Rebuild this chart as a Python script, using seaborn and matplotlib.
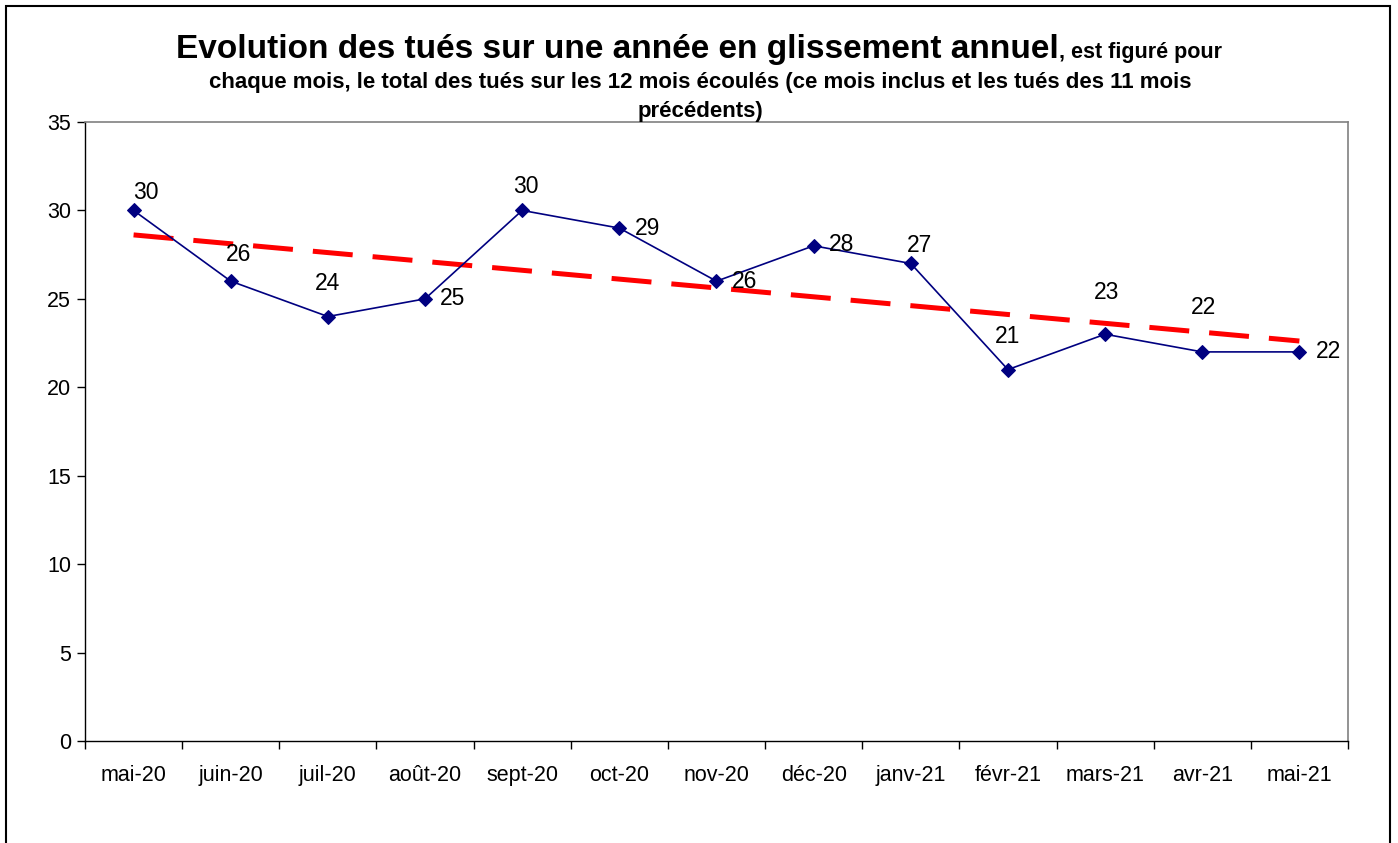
import numpy as np
import pandas as pd
import seaborn as sns
import matplotlib.pyplot as plt
from matplotlib.patches import Rectangle

months = ['mai-20', 'juin-20', 'juil-20', 'août-20', 'sept-20', 'oct-20', 'nov-20',
          'déc-20', 'janv-21', 'févr-21', 'mars-21', 'avr-21', 'mai-21']
tues = [30, 26, 24, 25, 30, 29, 26, 28, 27, 21, 23, 22, 22]
y_ticks = [0, 5, 10, 15, 20, 25, 30, 35]

# manual label offsets in points (Excel-style hand-placed labels)
label_offsets = [(9, 13), (6, 19), (0, 24), (20, 0), (3, 17), (20, 0), (20, 0),
                 (20, 1), (6, 13), (0, 24), (1, 30), (1, 32), (21, 0)]

df = pd.DataFrame({'pos': np.arange(len(months)), 'mois': months, 'tues': tues})

sns.set_style('white')
plt.rcParams['font.family'] = ['Liberation Sans', 'DejaVu Sans']
plt.rcParams['text.color'] = 'black'
plt.rcParams['xtick.color'] = 'black'
plt.rcParams['ytick.color'] = 'black'

fig = plt.figure(figsize=(13.98, 8.43), dpi=100)
ax = fig.add_axes([0.0608, 0.121, 0.9034, 0.7343])

sns.regplot(data=df, x='pos', y='tues', scatter=False, ci=None, ax=ax,
            line_kws=dict(color='#FF0000', lw=3.6, dashes=(8, 4)))
sns.lineplot(data=df, x='pos', y='tues', ax=ax, color='#000080', lw=1.2,
             marker='D', markersize=7, markeredgecolor='#000080')

for i, v in enumerate(tues):
    dx, dy = label_offsets[i]
    ax.annotate(str(v), (i, v), xytext=(dx, dy), textcoords='offset points',
                ha='center', va='center', fontsize=16.5, color='black')

ax.set_xlim(-0.5, len(months) - 0.5)
ax.set_ylim(0, 35)
ax.set_yticks(y_ticks)
ax.set_yticklabels([str(t) for t in y_ticks], fontsize=15.5)
ax.set_xticks(np.arange(len(months)))
ax.set_xticklabels(months, fontsize=15.5)
ax.set_xticks(np.arange(-0.5, len(months)), minor=True)
ax.tick_params(axis='x', which='major', length=0, pad=17)
ax.tick_params(axis='x', which='minor', length=6, width=1, color='black', direction='out', bottom=True)
ax.tick_params(axis='y', length=6, width=1, color='black', direction='out', left=True, pad=4)
ax.set_xlabel('')
ax.set_ylabel('')

for side in ['left', 'bottom']:
    ax.spines[side].set_color('black')
    ax.spines[side].set_linewidth(1)
for side in ['top', 'right']:
    ax.spines[side].set_color('#808080')
    ax.spines[side].set_linewidth(1.2)

# title: big bold part followed by smaller bold text on the same line
big = 'Evolution des tués sur une année en glissement annuel'
small = ', est figuré pour'
fs_big, fs_small = 24, 15.5
t1 = fig.text(0.5, 0.931, big, fontsize=fs_big, fontweight='bold', ha='center', va='baseline')
tmp = fig.text(0, 0, small, fontsize=fs_small, fontweight='bold')
fig.canvas.draw()
sw = tmp.get_window_extent().width
tmp.remove()
t1.set_x(0.5 - sw / 2 / fig.bbox.width)
fig.canvas.draw()
bb = t1.get_window_extent()
fig.text(bb.x1 / fig.bbox.width, 0.931, small, fontsize=fs_small, fontweight='bold',
         ha='left', va='baseline')
fig.text(0.501, 0.896, 'chaque mois, le total des tués sur les 12 mois écoulés (ce mois inclus et les tués des 11 mois',
         fontsize=16, fontweight='bold', ha='center', va='baseline')
fig.text(0.501, 0.861, 'précédents)', fontsize=16, fontweight='bold', ha='center', va='baseline')

fig.patches.append(Rectangle((0.004, -0.01), 0.99, 1.003, transform=fig.transFigure,
                             fill=False, edgecolor='black', lw=1.5))

fig.savefig('out.png', dpi=100)
